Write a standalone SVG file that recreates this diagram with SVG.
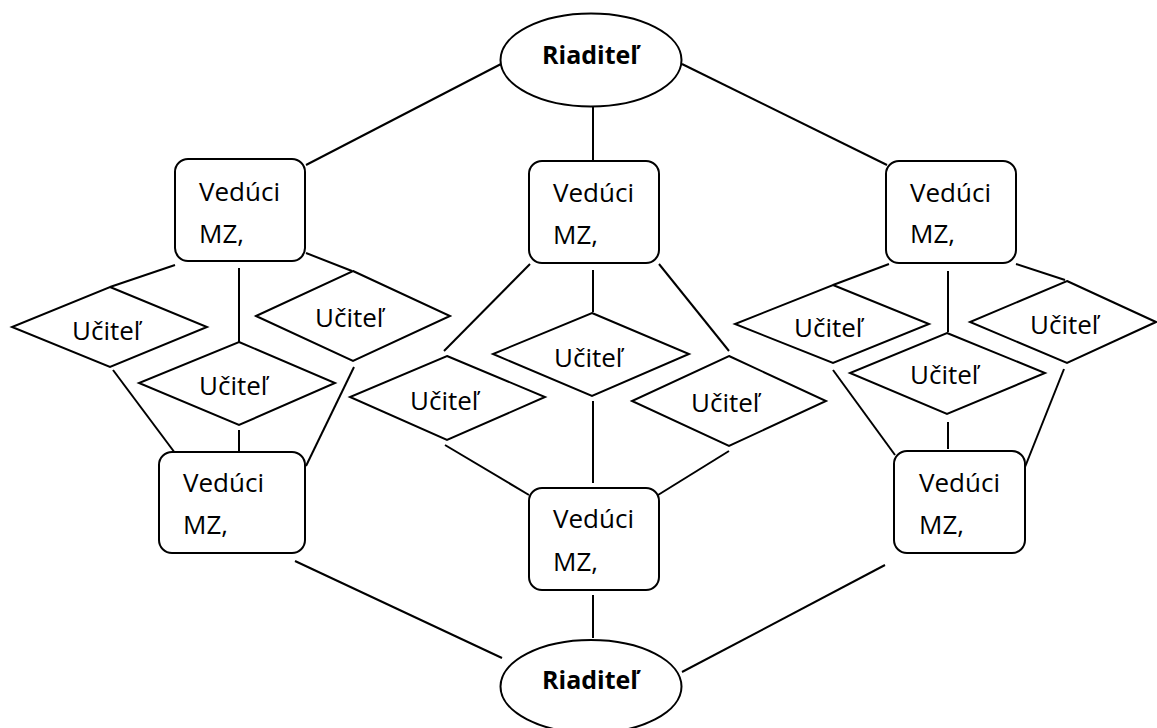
<svg xmlns="http://www.w3.org/2000/svg" width="1157" height="728" viewBox="0 0 1157 728">
<style>
.s{fill:#fff;stroke:#000;stroke-width:2}
.l{stroke:#000;stroke-width:2;fill:none}
.t{font-family:"Open Sans","Liberation Sans",sans-serif;font-size:26px;fill:#000}
.b{font-family:"Open Sans","Liberation Sans",sans-serif;font-size:25px;font-weight:bold;fill:#000}
</style>
<rect width="1157" height="728" fill="#fff"/>
<g id="connectors" class="l">
<line x1="501" y1="64" x2="306" y2="165"/>
<line x1="682" y1="64" x2="887" y2="165"/>
<line x1="593" y1="106" x2="593" y2="161"/>
<line x1="175" y1="265" x2="110" y2="287"/>
<line x1="239" y1="268" x2="239" y2="342"/>
<line x1="306" y1="253" x2="352" y2="271"/>
<line x1="113" y1="370" x2="175" y2="453"/>
<line x1="239" y1="430" x2="239" y2="452"/>
<line x1="354" y1="367" x2="306" y2="466"/>
<line x1="530" y1="264" x2="444" y2="351"/>
<line x1="593" y1="270" x2="593" y2="312"/>
<line x1="659" y1="264" x2="729" y2="351"/>
<line x1="445" y1="445" x2="529" y2="495"/>
<line x1="593" y1="401" x2="593" y2="483"/>
<line x1="729" y1="451" x2="658" y2="495"/>
<line x1="889" y1="264" x2="833" y2="285"/>
<line x1="948" y1="271" x2="948" y2="332"/>
<line x1="1016" y1="264" x2="1065" y2="280"/>
<line x1="833" y1="370" x2="895" y2="455"/>
<line x1="948" y1="422" x2="948" y2="449"/>
<line x1="1064" y1="369" x2="1025" y2="467"/>
<line x1="593" y1="595" x2="593" y2="638"/>
<line x1="295" y1="561" x2="502" y2="658"/>
<line x1="885" y1="565" x2="682" y2="672"/>
</g>
<g id="riaditel-top">
<ellipse class="s" cx="591" cy="60" rx="90.5" ry="46.5"/>
<text class="b" x="590" y="64" text-anchor="middle">Riaditeľ</text>
</g>
<g id="riaditel-bottom">
<ellipse class="s" cx="591" cy="686.5" rx="90.5" ry="46.5"/>
<text class="b" x="590" y="689" text-anchor="middle">Riaditeľ</text>
</g>
<g id="veduci-tl">
<rect class="s" x="175" y="159" width="130" height="102" rx="13"/>
<text class="t" x="199" y="201">Vedúci</text>
<text class="t" x="199" y="243">MZ,</text>
</g>
<g id="veduci-tm">
<rect class="s" x="529" y="161" width="130" height="102" rx="13"/>
<text class="t" x="553" y="202">Vedúci</text>
<text class="t" x="553" y="244">MZ,</text>
</g>
<g id="veduci-tr">
<rect class="s" x="886" y="161" width="130" height="102" rx="13"/>
<text class="t" x="910" y="202">Vedúci</text>
<text class="t" x="910" y="243">MZ,</text>
</g>
<g id="veduci-bl">
<rect class="s" x="159" y="452" width="146" height="101" rx="13"/>
<text class="t" x="183" y="492">Vedúci</text>
<text class="t" x="183" y="534">MZ,</text>
</g>
<g id="veduci-bm">
<rect class="s" x="529" y="488" width="130" height="102" rx="13"/>
<text class="t" x="553" y="528">Vedúci</text>
<text class="t" x="553" y="571">MZ,</text>
</g>
<g id="veduci-br">
<rect class="s" x="894" y="451" width="131" height="102" rx="13"/>
<text class="t" x="919" y="492">Vedúci</text>
<text class="t" x="919" y="534">MZ,</text>
</g>
<g id="ucitel-l1">
<polygon class="s" points="110,287 207,327 110,367 12,327"/>
<text class="t" x="72" y="340">Učiteľ</text>
</g>
<g id="ucitel-l2">
<polygon class="s" points="239,342 335,383 239,425 139,383"/>
<text class="t" x="199" y="395">Učiteľ</text>
</g>
<g id="ucitel-l3">
<polygon class="s" points="353,271 450,316 353,361 256,316"/>
<text class="t" x="315" y="327">Učiteľ</text>
</g>
<g id="ucitel-m1">
<polygon class="s" points="447,356 545,397 447,440 350,397"/>
<text class="t" x="410" y="410">Učiteľ</text>
</g>
<g id="ucitel-m2">
<polygon class="s" points="592,313 689,354 592,396 493,354"/>
<text class="t" x="554" y="367">Učiteľ</text>
</g>
<g id="ucitel-m3">
<polygon class="s" points="729,356 826,401 729,446 632,401"/>
<text class="t" x="691" y="412">Učiteľ</text>
</g>
<g id="ucitel-r1">
<polygon class="s" points="833,285 929,324 833,363 735,324"/>
<text class="t" x="794" y="337">Učiteľ</text>
</g>
<g id="ucitel-r2">
<polygon class="s" points="947,333 1045,373 947,414 850,373"/>
<text class="t" x="910" y="384">Učiteľ</text>
</g>
<g id="ucitel-r3">
<polygon class="s" points="1067,281 1156,322 1067,363 970,322"/>
<text class="t" x="1030" y="334">Učiteľ</text>
</g>
</svg>
